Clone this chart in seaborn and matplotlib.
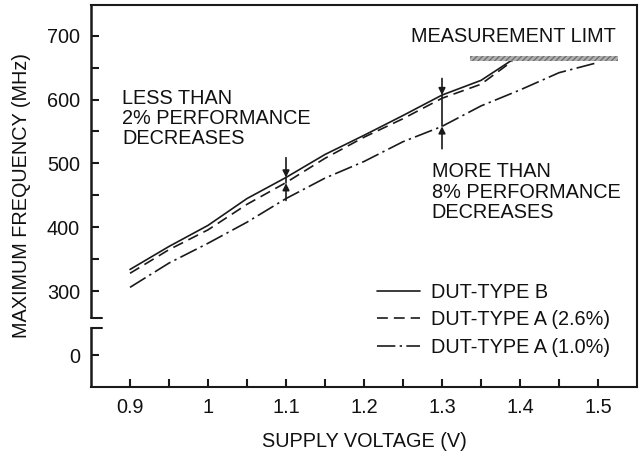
import numpy as np
import pandas as pd
import matplotlib
matplotlib.use("Agg")
import matplotlib.pyplot as plt
import seaborn as sns

# ---- data ----
volt_b = [0.90, 0.95, 1.00, 1.05, 1.10, 1.15, 1.20, 1.25, 1.30, 1.35, 1.39]
freq_b = [334, 370, 403, 445, 478, 514, 544, 575, 607, 630, 662]
volt_a26 = [0.90, 0.95, 1.00, 1.05, 1.10, 1.15, 1.20, 1.25, 1.30, 1.35, 1.39]
freq_a26 = [328, 365, 396, 436, 470, 508, 541, 570, 602, 624, 660]
volt_a10 = [0.90, 0.95, 1.00, 1.05, 1.10, 1.15, 1.20, 1.25, 1.30, 1.35, 1.40, 1.45, 1.50]
freq_a10 = [306, 344, 375, 408, 445, 477, 503, 534, 558, 590, 615, 642, 658]

labels = ["DUT-TYPE B", "DUT-TYPE A (2.6%)", "DUT-TYPE A (1.0%)"]
x_ticks = [0.9, 0.95, 1.0, 1.05, 1.1, 1.15, 1.2, 1.25, 1.3, 1.35, 1.4, 1.45, 1.5]
x_ticklabels = ["0.9", "", "1", "", "1.1", "", "1.2", "", "1.3", "", "1.4", "", "1.5"]
y_ticks = [200, 300, 350, 400, 450, 500, 550, 600, 650, 700]   # 200 is shown as "0" (broken axis)
y_ticklabels = ["0", "300", "", "400", "", "500", "", "600", "", "700"]
limit_band = (1.336, 1.526, 660, 668)

sns.set_theme(style="ticks")
plt.rcParams["font.family"] = ["Liberation Sans", "DejaVu Sans"]
FS = 14.3
TXT = "#111111"

fig = plt.figure(figsize=(6.42, 4.57), dpi=100)
ax = fig.add_axes([91/642, 1-387/457, 546/642, 382/457])

solid = "-"
dashed = (0, (6.5, 3.6))
dashdot = (0, (11, 2.6, 1.4, 2.6))
sns.lineplot(x=volt_b, y=freq_b, ax=ax, color="k", lw=1.2, linestyle=solid, label=labels[0])
sns.lineplot(x=volt_a26, y=freq_a26, ax=ax, color="k", lw=1.2, linestyle=dashed, label=labels[1])
sns.lineplot(x=volt_a10, y=freq_a10, ax=ax, color="k", lw=1.2, linestyle=dashdot, label=labels[2])

ax.set_xlim(0.85, 1.55)
ax.set_ylim(150, 748)
ax.set_xticks(x_ticks)
ax.set_xticklabels(x_ticklabels, fontsize=FS)
ax.set_yticks(y_ticks)
ax.set_yticklabels(y_ticklabels, fontsize=FS)
ax.tick_params(axis="both", direction="in", length=6, width=1.5, colors="k", labelcolor=TXT)
ax.tick_params(axis="x", pad=8)
ax.tick_params(axis="y", pad=8)

for s in ["top", "right", "bottom"]:
    ax.spines[s].set_linewidth(1.5)
    ax.spines[s].set_color("k")
ax.spines["left"].set_visible(False)
# broken left axis
yt = ax.get_yaxis_transform()
ax.plot([0, 0], [150, 242], transform=yt, color="k", lw=1.8, clip_on=False, solid_capstyle="butt")
ax.plot([0, 0], [258, 748], transform=yt, color="k", lw=1.8, clip_on=False, solid_capstyle="butt")
ax.plot([0, 0.02], [242, 242], transform=yt, color="k", lw=1.5, clip_on=False)
ax.plot([0, 0.02], [258, 258], transform=yt, color="k", lw=1.5, clip_on=False)

# measurement limit band
x0, x1, y0, y1 = limit_band
ax.fill_between([x0, x1], y0, y1, facecolor="#b0b0b0", edgecolor="#707070", hatch="//////", lw=0, zorder=3)
ax.text(1.391, 698, "MEASUREMENT LIMT", fontsize=FS, ha="center", va="center", color=TXT)

# arrows
def arrow(x, y_from, y_to):
    ax.annotate("", xy=(x, y_to), xytext=(x, y_from),
                arrowprops=dict(arrowstyle="-|>", color="k", lw=1.2, mutation_scale=10, shrinkA=0, shrinkB=0))

arrow(1.1, 509, 478)
arrow(1.1, 442, 469)
ax.plot([1.1, 1.1], [469, 478], color="k", lw=1.2)
arrow(1.3, 633, 607)
arrow(1.3, 523, 558)
ax.plot([1.3, 1.3], [558, 607], color="k", lw=1.2)

ax.text(0.8897, 570, "LESS THAN\n2% PERFORMANCE\nDECREASES", fontsize=FS, ha="left", va="center",
        linespacing=1.08, color=TXT)
ax.text(1.287, 455, "MORE THAN\n8% PERFORMANCE\nDECREASES", fontsize=FS, ha="left", va="center",
        linespacing=1.08, color=TXT)

ax.set_xlabel("SUPPLY VOLTAGE (V)", fontsize=FS, color=TXT, labelpad=11)
ax.set_ylabel("MAXIMUM FREQUENCY (MHz)", fontsize=FS, color=TXT, labelpad=11)

leg = ax.legend(loc="upper left", bbox_to_anchor=(0.524, 0.272), frameon=False, fontsize=FS,
                handlelength=2.15, handletextpad=0.55, labelspacing=0.42, borderpad=0, borderaxespad=0)
for t in leg.get_texts():
    t.set_color(TXT)

fig.savefig("out.png", dpi=100)
